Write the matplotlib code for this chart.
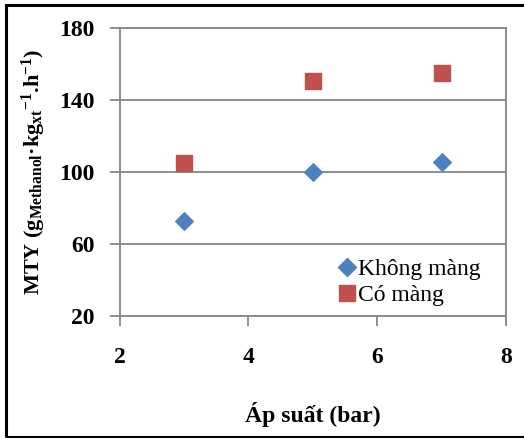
import matplotlib
matplotlib.use("Agg")
import matplotlib.pyplot as plt
from matplotlib.lines import Line2D

# Dữ liệu
ap_suat = [3, 5, 7]
khong_mang = [73, 100, 105.5]
co_mang = [105.3, 151, 155.2]
x_ticks = [2, 4, 6, 8]
y_ticks = [20, 60, 100, 140, 180]

plt.rcParams['font.family'] = ['Liberation Serif', 'DejaVu Serif']
plt.rcParams['mathtext.fontset'] = 'custom'
plt.rcParams['mathtext.rm'] = 'Liberation Serif:bold'
plt.rcParams['mathtext.it'] = 'Liberation Serif:bold'
plt.rcParams['mathtext.bf'] = 'Liberation Serif:bold'

fig = plt.figure(figsize=(5.24, 4.38), dpi=100)
W, H = 524, 438
ax = fig.add_axes([119.5 / W, 1 - 316 / H, (506 - 119.5) / W, (316 - 28.5) / H])

grey = '#868686'
ax.scatter(ap_suat, khong_mang, marker='D', s=80, color='#4F81BD', label='Không màng', zorder=3)
ax.scatter(ap_suat, co_mang, marker='s', s=125, color='#C0504D', label='Có màng', zorder=3)

ax.set_xlim(2, 8)
ax.set_ylim(20, 180)
ax.set_xticks(x_ticks)
ax.set_yticks(y_ticks)
ax.yaxis.grid(True, color=grey, linewidth=1.3)
ax.set_axisbelow(True)
for s in ax.spines.values():
    s.set_color(grey)
    s.set_linewidth(1.3)
ax.tick_params(axis='both', color=grey, width=1.3, length=7, labelsize=17)
ax.tick_params(axis='x', pad=15)
ax.tick_params(axis='y', pad=11)
for lb in ax.get_xticklabels() + ax.get_yticklabels():
    lb.set_fontweight('bold')

ax.set_xlabel('Áp suất (bar)', fontsize=17, fontweight='bold', labelpad=25)
ax.set_ylabel(r'MTY (g$_{\mathrm{Methanol}}$·kg$_{\mathrm{xt}}$$^{\mathrm{-1}}$.h$^{\mathrm{-1}}$)',
              fontsize=16, fontweight='bold', labelpad=8)

handles = [
    Line2D([], [], marker='D', linestyle='none', color='#4F81BD', markersize=9),
    Line2D([], [], marker='s', linestyle='none', color='#C0504D', markersize=11),
]
ax.legend(handles, ['Không màng', 'Có màng'], loc='lower right', bbox_to_anchor=(0.97, -0.015),
          frameon=False, fontsize=17, handletextpad=0.0, handlelength=0.9,
          labelspacing=0.2, borderaxespad=0.2)

# khung ngoài
fig.patches.append(plt.Rectangle((5.5 / W, 1 - 436.5 / H), 1.2, (436.5 - 5) / H,
                                 transform=fig.transFigure, fill=False,
                                 edgecolor='black', linewidth=2.2))

fig.savefig('out.png', dpi=100)
